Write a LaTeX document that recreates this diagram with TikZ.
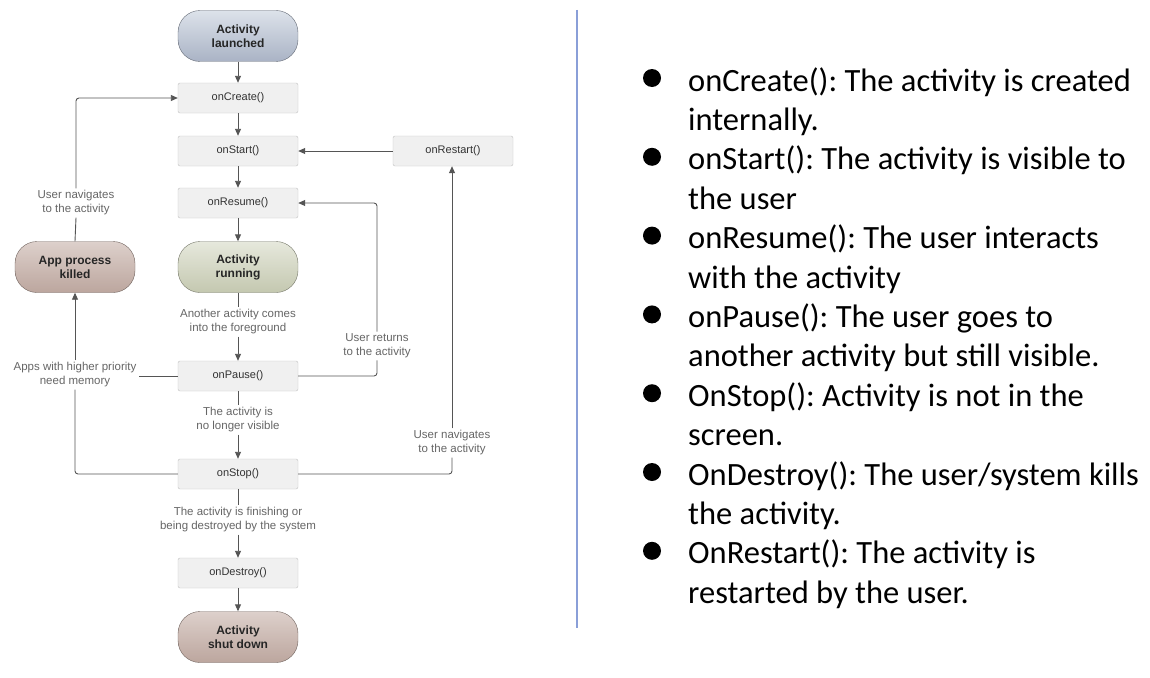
\documentclass[tikz,border=0pt]{standalone}
\usepackage{fontspec}
\setmainfont{Liberation Sans}
\newfontfamily\calibrifont{Carlito}
\usetikzlibrary{arrows.meta}
\frenchspacing
\definecolor{linec}{HTML}{555555}
\definecolor{boxfill}{HTML}{F0F0F0}
\definecolor{boxdraw}{HTML}{C2C2C2}
\definecolor{labc}{HTML}{333333}
\definecolor{annc}{HTML}{666666}
\definecolor{divc}{HTML}{8A9FD8}
\tikzset{
  lbox/.style={draw=boxdraw, fill=boxfill, rounded corners=2pt, minimum width=120pt, minimum height=30pt, inner sep=0pt, text=labc, font=\fontsize{11}{13}\selectfont},
  pill/.style={draw=#1!60!black, rounded corners=22pt, minimum width=120pt, minimum height=51pt, inner sep=0pt, align=center, text=black!85, font=\bfseries\fontsize{12}{14}\selectfont},
  bluepill/.style={pill=pillblue, top color=pillbluetop, bottom color=pillblue},
  greenpill/.style={pill=pillgreen, top color=pillgreentop, bottom color=pillgreen},
  brownpill/.style={pill=pillbrown, top color=pillbrowntop, bottom color=pillbrown},
  ann/.style={align=center, text=annc, inner sep=2pt, font=\fontsize{11.5}{14}\selectfont},
  conn/.style={draw=linec, line width=0.9pt, rounded corners=3pt},
  arr/.style={conn, -{Triangle[length=7pt,width=6pt]}},
  item/.style={anchor=base west, inner sep=0pt, font=\calibrifont\fontsize{32.5}{39}\selectfont\frenchspacing},
  bdot/.style={circle, fill=black, minimum size=18pt, inner sep=0pt},
}
\definecolor{pillblue}{HTML}{A9B3C5}
\definecolor{pillbluetop}{HTML}{DDE2EA}
\definecolor{pillgreen}{HTML}{C4C8B0}
\definecolor{pillgreentop}{HTML}{E6E8DC}
\definecolor{pillbrown}{HTML}{BCA69E}
\definecolor{pillbrowntop}{HTML}{DDD0CB}
\begin{document}
\begin{tikzpicture}[x=1pt,y=-1pt]
\useasboundingbox (0,0) rectangle (1150,677);
\fill[white] (0,0) rectangle (1150,677);

% main column
\node[bluepill] (launched) at (238,36) {Activity\\launched};
\node[lbox] (create) at (238,98) {onCreate()};
\node[lbox] (start) at (238,151) {onStart()};
\node[lbox] (resume) at (238,203) {onResume()};
\node[greenpill] (running) at (238,267) {Activity\\running};
\node[lbox] (pause) at (238,376) {onPause()};
\node[lbox] (stop) at (238,474) {onStop()};
\node[lbox] (destroy) at (238,573) {onDestroy()};
\node[brownpill] (shut) at (238,637) {Activity\\shut down};
\node[lbox] (restart) at (453,151) {onRestart()};
\node[brownpill] (killed) at (75,267) {App process\\killed};

% annotations
\node[ann] (t1) at (238,322) {Another activity comes\\into the foreground};
\node[ann] (t2) at (238,420) {The activity is\\no longer visible};
\node[ann] (t3) at (238,520) {The activity is finishing or\\being destroyed by the system};
\node[ann] (t4) at (377,346) {User returns\\to the activity};
\node[ann] (t5) at (452,443) {User navigates\\to the activity};
\node[ann] (t6) at (76,203) {User navigates\\to the activity};
\node[ann] (t7) at (75,375) {Apps with higher priority\\need memory};

% connectors
\draw[arr] (launched) -- (create);
\draw[arr] (create) -- (start);
\draw[arr] (start) -- (resume);
\draw[arr] (resume) -- (running);
\draw[conn] (running) -- (t1);
\draw[arr] (t1) -- (pause);
\draw[conn] (pause) -- (t2);
\draw[arr] (t2) -- (stop);
\draw[conn] (stop) -- (t3);
\draw[arr] (t3) -- (destroy);
\draw[arr] (destroy) -- (shut);
\draw[arr] (restart) -- (start);
\draw[conn] (pause.east) -| (t4.south);
\draw[arr] (t4.north) |- (resume.east);
\draw[conn] (stop.east) -| (t5.south);
\draw[arr] (t5.north) -- (t5.north |- restart.south);
\draw[conn] (stop.west) -| (t7.south);
\draw[arr] (t7.north) -- (killed.south);
\draw[conn] (pause.west) -- (t7.east |- pause.west);
\draw[conn] (killed.north) -- (t6.south);
\draw[arr] (t6.north) |- (create.west);

% divider
\draw[divc, line width=1.2pt] (577,10) -- (577,628);

% right list
\node[bdot] (b1) at (652,78) {};
\node[item] (l1) at (688,91) {onCreate(): The activity is created};
\node[item] (l2) at (688,130.4) {internally.};
\node[bdot] (b2) at (652,156.8) {};
\node[item] (l3) at (688,169.8) {onStart(): The activity is visible to};
\node[item] (l4) at (688,209.2) {the user};
\node[bdot] (b3) at (652,235.6) {};
\node[item] (l5) at (688,248.6) {onResume(): The user interacts};
\node[item] (l6) at (688,288) {with the activity};
\node[bdot] (b4) at (652,314.4) {};
\node[item] (l7) at (688,327.4) {onPause(): The user goes to};
\node[item] (l8) at (688,366.8) {another activity but still visible.};
\node[bdot] (b5) at (652,393.2) {};
\node[item] (l9) at (688,406.2) {OnStop(): Activity is not in the};
\node[item] (l10) at (688,445.6) {screen.};
\node[bdot] (b6) at (652,472) {};
\node[item] (l11) at (688,485) {OnDestroy(): The user/system kills};
\node[item] (l12) at (688,524.4) {the activity.};
\node[bdot] (b7) at (652,550.8) {};
\node[item] (l13) at (688,563.8) {OnRestart(): The activity is};
\node[item] (l14) at (688,603.2) {restarted by the user.};
\end{tikzpicture}
\end{document}
